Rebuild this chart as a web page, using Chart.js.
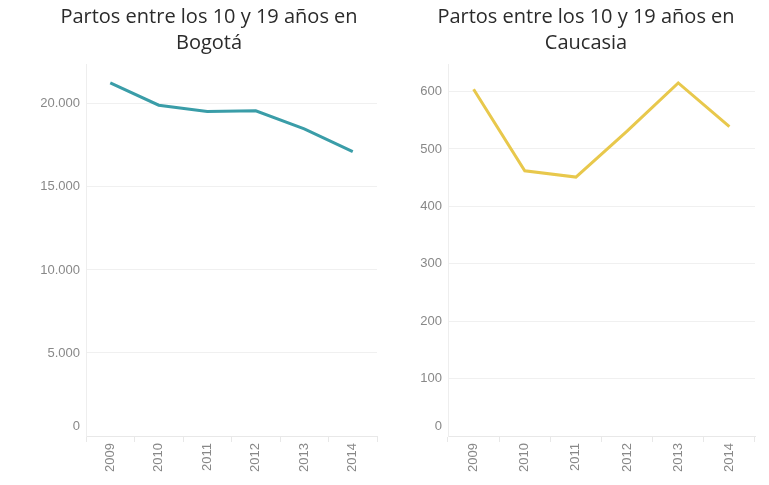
<!DOCTYPE html>
<html>
<head>
<meta charset="utf-8">
<script src="https://cdn.jsdelivr.net/npm/chart.js@4"></script>
<style>
  body { margin: 0; background: #fff; width: 769px; height: 485px; position: relative; overflow: hidden; }
  .box { position: absolute; top: 0; height: 485px; }
</style>
</head>
<body>
<div class="box" style="left:36px;width:362px"><canvas id="bogota"></canvas></div>
<div class="box" style="left:417px;width:352px"><canvas id="caucasia"></canvas></div>
<script>
const years = ['2009', '2010', '2011', '2012', '2013', '2014']
const bogotaValues = [21270, 19920, 19540, 19580, 18490, 17130]
const caucasiaValues = [604, 462, 451, 531, 615, 539]
const bogotaTicks = [0, 5000, 10000, 15000, 20000]
const caucasiaTicks = [0, 100, 200, 300, 400, 500, 600]

const tickFont = { family: "'Liberation Sans', Arial, sans-serif", size: 13, lineHeight: 1.5 }

function formatNum (v) {
  return String(v).replace(/\B(?=(\d{3})+(?!\d))/g, '.')
}

// title is centred over the canvas minus the left/right layout padding
function makeChart (id, title, values, ticks, yMax, color, axisWidth, padLeft, padRight) {
  new Chart(document.getElementById(id), {
    type: 'line',
    data: {
      labels: years,
      datasets: [
        {
          data: values,
          borderColor: color,
          borderWidth: 3,
          pointRadius: 0,
          tension: 0,
          fill: false
        }
      ]
    },
    options: {
      responsive: true,
      maintainAspectRatio: false,
      animation: false,
      layout: { padding: { right: padRight, bottom: 0, left: padLeft, top: 0 } },
      plugins: {
        legend: { display: false },
        tooltip: { enabled: false },
        title: {
          display: true,
          text: title,
          color: '#2b2b2b',
          font: { family: "'Open Sans', sans-serif", size: 20, weight: 'normal', lineHeight: 1.3 },
          padding: { top: 4, bottom: 8 }
        }
      },
      scales: {
        x: {
          offset: true,
          border: { color: '#e8e8e8' },
          grid: { drawOnChartArea: false, drawTicks: true, tickLength: 6, offset: true, color: '#e8e8e8' },
          ticks: { color: '#888', font: tickFont, minRotation: 90, maxRotation: 90, padding: 1 },
          afterFit: scale => { scale.height = 49 }
        },
        y: {
          min: 0,
          max: yMax,
          border: { color: '#eeeeee' },
          grid: { color: '#f0f0f0', drawTicks: false },
          afterBuildTicks: scale => { scale.ticks = ticks.map(v => ({ value: v })) },
          ticks: {
            color: '#888',
            font: tickFont,
            padding: 6,
            callback: v => (v === 0 ? ['0', ''] : formatNum(v))
          },
          afterFit: scale => { scale.width = axisWidth }
        }
      }
    }
  })
}

// left chart: content 41..377, plot 86..377
makeChart('bogota', ['Partos entre los 10 y 19 años en', 'Bogotá'], bogotaValues, bogotaTicks, 22400, '#3a9da8', 45, 5, 21)
// right chart: content 417..755, plot 448..755
makeChart('caucasia', ['Partos entre los 10 y 19 años en', 'Caucasia'], caucasiaValues, caucasiaTicks, 648, '#e8c84c', 31, 0, 14)
</script>
</body>
</html>
